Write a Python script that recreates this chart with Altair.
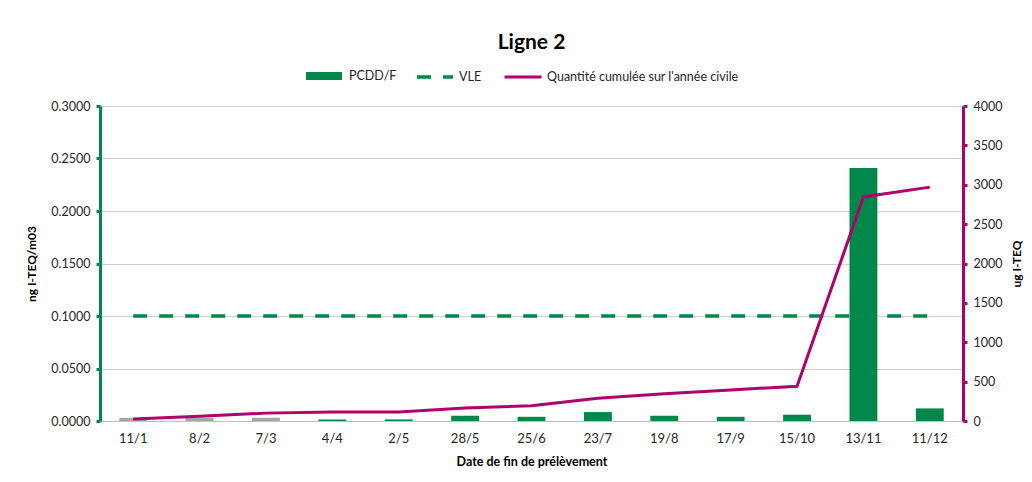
import altair as alt
import pandas as pd

dates = ["11/1", "8/2", "7/3", "4/4", "2/5", "28/5", "25/6", "23/7", "19/8", "17/9", "15/10", "13/11", "11/12"]
pcdd = [0.003, 0.003, 0.003, 0.0015, 0.0015, 0.005, 0.004, 0.0085, 0.005, 0.004, 0.006, 0.241, 0.012]
cumul = [25, 60, 100, 115, 115, 165, 195, 290, 345, 395, 440, 2845, 2970]
vle = [0.1] * 13
below_lq = [True, True, True] + [False] * 10

left_ticks = [0, 0.05, 0.1, 0.15, 0.2, 0.25, 0.3]
right_ticks = [0, 500, 1000, 1500, 2000, 2500, 3000, 3500, 4000]

GREEN = "#00884B"
MAGENTA = "#B0006E"
GREY = "#A6A6A6"
FONT = "Lato"
LINE_LABEL = "Quantité cumulée sur l'année civile"

df = pd.DataFrame({
    "date": dates,
    "pcdd": pcdd,
    "cumul": cumul,
    "vle": vle,
    "bar_series": ["<LQ" if b else "PCDD/F" for b in below_lq],
    "vle_series": ["VLE"] * len(dates),
    "line_series": [LINE_LABEL] * len(dates),
})

x = alt.X(
    "date:N", sort=dates, title="Date de fin de prélèvement",
    scale=alt.Scale(paddingInner=0.58, paddingOuter=0.29),
    axis=alt.Axis(labelAngle=0, ticks=False, domainColor="#BFBFBF", domainWidth=1,
                  labelPadding=11, titlePadding=10, labelFontSize=13,
                  titleFontWeight="bold", titleFontSize=12.5, labelColor="#262626",
                  titleColor="#000000"),
)

left_scale = alt.Scale(domain=[0, 0.3], nice=False)
left_axis = alt.Axis(values=left_ticks, format=".4f", title="ng I-TEQ/m03",
                     domainColor=GREEN, domainWidth=3, tickColor=GREEN,
                     tickWidth=3, tickSize=4, labelPadding=6,
                     gridColor="#D0D0D0", gridWidth=1, grid=True,
                     titleFontWeight="bold", titleFontSize=12, titleColor="#000000",
                     titlePadding=12, labelFontSize=12.5, labelColor="#262626")

bars = alt.Chart(df).mark_bar().encode(
    x=x,
    y=alt.Y("pcdd:Q", scale=left_scale, axis=left_axis),
    color=alt.Color("bar_series:N",
                    scale=alt.Scale(domain=["PCDD/F", "<LQ"], range=[GREEN, GREY]),
                    legend=alt.Legend(values=["PCDD/F"], title=None, orient="none",
                                      legendX=205, legendY=-49,
                                      symbolType="M-1,-0.22H1V0.22H-1Z",
                                      symbolSize=1296, symbolOpacity=1,
                                      labelFontSize=12.5, labelOffset=6,
                                      labelLimit=0, padding=0)),
)

vle_line = alt.Chart(df).mark_line(strokeWidth=3.5, color=GREEN, strokeCap="butt").encode(
    x=x,
    y=alt.Y("vle:Q", scale=left_scale, axis=left_axis),
    strokeDash=alt.StrokeDash("vle_series:N",
                              scale=alt.Scale(domain=["VLE"], range=[[14, 12]]),
                              legend=alt.Legend(title=None, orient="none",
                                                legendX=315, legendY=-49,
                                                symbolType="stroke", symbolSize=1296,
                                                symbolStrokeColor=GREEN,
                                                symbolStrokeWidth=3.5,
                                                symbolDash=[12, 12],
                                                labelFontSize=12.5, labelOffset=4,
                                                labelLimit=0, padding=0)),
)

left_layer = alt.layer(bars, vle_line)

cum_line = alt.Chart(df).mark_line(strokeWidth=3).encode(
    x=x,
    y=alt.Y("cumul:Q", scale=alt.Scale(domain=[0, 4000], nice=False),
            axis=alt.Axis(orient="right", values=right_ticks, format="d", title="ug I-TEQ",
                          domainColor=MAGENTA, domainWidth=3, tickColor=MAGENTA,
                          tickWidth=3, tickSize=4, labelPadding=6, grid=False,
                          titleFontWeight="bold", titleFontSize=12, titlePadding=22,
                          titleAngle=270, titleColor="#000000",
                          labelFontSize=12.5, labelColor="#262626")),
    stroke=alt.Stroke("line_series:N",
                      scale=alt.Scale(domain=[LINE_LABEL], range=[MAGENTA]),
                      legend=alt.Legend(title=None, orient="none",
                                        legendX=403, legendY=-49,
                                        symbolType="stroke", symbolSize=1369,
                                        symbolStrokeWidth=3,
                                        labelFontSize=12.5, labelOffset=4,
                                        labelLimit=0, padding=0)),
)

chart = alt.layer(left_layer, cum_line).resolve_scale(
    y="independent", color="independent", stroke="independent", strokeDash="independent"
).properties(
    width=863, height=315,
    title=alt.Title("Ligne 2", fontSize=21, fontWeight="bold", font=FONT, offset=4,
                    anchor="middle", color="#000000"),
    autosize=alt.AutoSizeParams(type="none"),
    padding={"left": 92, "top": 98, "right": 61, "bottom": 53},
).configure(font=FONT).configure_view(stroke=None).configure_axis(
    labelFont=FONT, titleFont=FONT
).configure_legend(labelFont=FONT, labelColor="#262626")

chart.save("out.html", embed_options={"renderer": "svg", "actions": False})
